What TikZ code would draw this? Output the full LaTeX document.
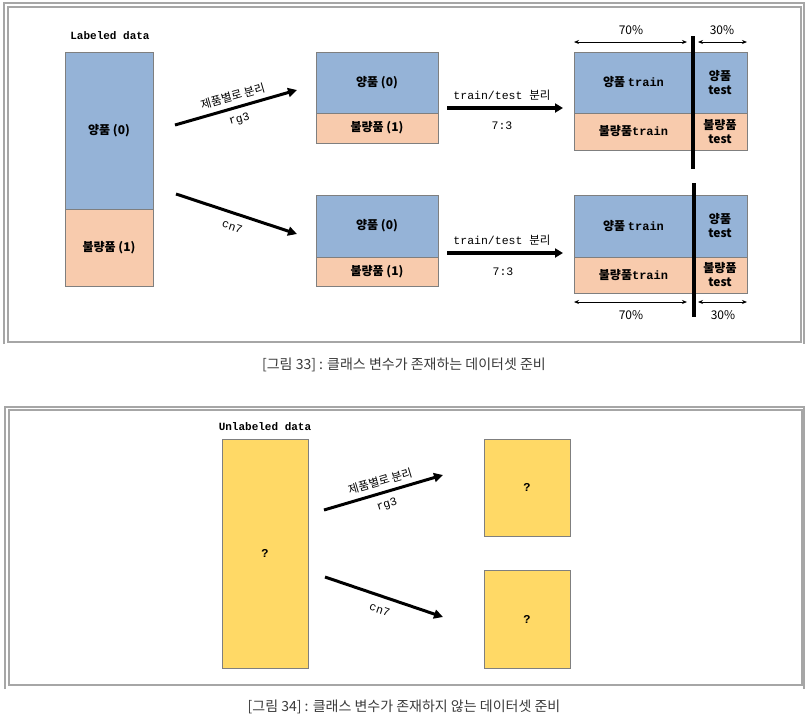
\documentclass[tikz,border=0pt]{standalone}
\usepackage{fontspec}
\setmainfont{Noto Sans CJK KR}
\newfontfamily\mono{Liberation Mono}
\usetikzlibrary{arrows.meta}
\definecolor{cblue}{HTML}{95B3D7}
\definecolor{cpeach}{HTML}{F8CBAD}
\definecolor{cyellow}{HTML}{FFD966}
\definecolor{cedge}{HTML}{7F7F7F}
\definecolor{cframe}{HTML}{A6A6A6}
\definecolor{ccap}{HTML}{3A3A3A}
\begin{document}
\begin{tikzpicture}[x=1pt,y=-1pt,
  cell/.style={draw=cedge, line width=0.8pt, inner sep=0pt, outer sep=0pt, align=center, font=\fontsize{12}{14}\selectfont\bfseries},
  bluecell/.style={cell, fill=cblue},
  peachcell/.style={cell, fill=cpeach},
  yellowcell/.style={cell, fill=cyellow},
  frameline/.style={draw=cframe, line width=1.1pt},
  bigarrow/.style={line width=3pt, -{Triangle[length=9pt,width=9pt]}},
  flowarrow/.style={line width=3.5pt, -{Triangle[length=8pt,width=9pt]}},
  dimarrow/.style={line width=0.9pt, {Stealth[length=5pt,width=4pt]}-{Stealth[length=5pt,width=4pt]}},
  divider/.style={line width=4pt, black},
  pct/.style={font=\fontsize{12}{14}\selectfont, inner sep=0pt},
  monolbl/.style={font=\mono\fontsize{11.5}{13}\selectfont, inner sep=0pt},
  krlbl/.style={font=\fontsize{11.5}{13}\selectfont, inner sep=0pt},
  titlelbl/.style={font=\mono\bfseries\fontsize{11}{13}\selectfont, inner sep=0pt},
  caption/.style={font=\fontsize{14}{16}\selectfont, text=ccap, inner sep=0pt}
]
\useasboundingbox (0,0) rectangle (807,721);

% ---------- frame 1 ----------
\draw[frameline] (4,344) -- (4,3) -- (804,3) -- (804,344);
\draw[frameline] (8,7) rectangle (801,342);

% ---------- labeled data ----------
\node[titlelbl] (tlab) at (110,36) {Labeled data};
\node[bluecell, minimum width=88, minimum height=157] (Lg) at (109,130.5) {양품 (0)};
\node[peachcell, minimum width=88, minimum height=77] (Lb) at (109,247.5) {불량품 (1)};

% middle boxes
\node[bluecell, minimum width=122, minimum height=61] (Mg1) at (377,82.5) {양품 (0)};
\node[peachcell, minimum width=122, minimum height=30] (Mb1) at (377,128) {불량품 (1)};
\node[bluecell, minimum width=122, minimum height=62] (Mg2) at (377,226) {양품 (0)};
\node[peachcell, minimum width=122, minimum height=29] (Mb2) at (377,271.5) {불량품 (1)};

% right boxes
\node[bluecell, minimum width=119, minimum height=61] (Rg1) at (633.5,82.5) {양품 {\mono train}};
\node[bluecell, minimum width=54, minimum height=61] (Tg1) at (720,82.5) {양품\\test};
\node[peachcell, minimum width=119, minimum height=37] (Rb1) at (633.5,131.5) {불량품{\mono train}};
\node[peachcell, minimum width=54, minimum height=37] (Tb1) at (720,131.5) {불량품\\test};

\node[bluecell, minimum width=119, minimum height=62] (Rg2) at (633.5,226) {양품 {\mono train}};
\node[bluecell, minimum width=54, minimum height=62] (Tg2) at (720,226) {양품\\test};
\node[peachcell, minimum width=119, minimum height=36] (Rb2) at (633.5,275) {불량품{\mono train}};
\node[peachcell, minimum width=54, minimum height=36] (Tb2) at (720,275) {불량품\\test};

% dividers
\coordinate (d1a) at (693,36);  \coordinate (d1b) at (693,169);
\coordinate (d2a) at (694,183); \coordinate (d2b) at (694,317);
\draw[divider] (d1a) -- (d1b);
\draw[divider] (d2a) -- (d2b);

% dimension arrows
\coordinate (p1a) at (574,42); \coordinate (p1b) at (687,42);
\coordinate (p2a) at (698,42); \coordinate (p2b) at (747,42);
\coordinate (p3a) at (574,302); \coordinate (p3b) at (687,302);
\coordinate (p4a) at (698,302); \coordinate (p4b) at (747,302);
\draw[dimarrow] (p1a) -- (p1b);
\draw[dimarrow] (p2a) -- (p2b);
\draw[dimarrow] (p3a) -- (p3b);
\draw[dimarrow] (p4a) -- (p4b);
\node[pct] (t70a) at (631,30) {70\%};
\node[pct] (t30a) at (722,30) {30\%};
\node[pct] (t70b) at (631,315) {70\%};
\node[pct] (t30b) at (723,315) {30\%};

% split arrows
\coordinate (a1s) at (175,125); \coordinate (a1e) at (297,90);
\coordinate (a2s) at (176,194); \coordinate (a2e) at (297,234);
\draw[bigarrow] (a1s) -- node[krlbl, sloped, above, yshift=5pt] {제품별로 분리} node[monolbl, sloped, below, yshift=-6pt] {rg3} (a1e);
\draw[bigarrow] (a2s) -- node[monolbl, sloped, below, yshift=-8pt] {cn7} (a2e);

% train/test arrows
\coordinate (f1s) at (447,108); \coordinate (f1e) at (563,108);
\coordinate (f2s) at (447,253); \coordinate (f2e) at (563,253);
\draw[flowarrow] (f1s) -- (f1e);
\draw[flowarrow] (f2s) -- (f2e);
\node[monolbl] (tt1) at (502,95) {train/test {\rmfamily 분리}};
\node[monolbl] (r1) at (502,126) {7:3};
\node[monolbl] (tt2) at (502,240) {train/test {\rmfamily 분리}};
\node[monolbl] (r2) at (503,272) {7:3};

\node[caption] (cap1) at (404,365) {[그림 33] : 클래스 변수가 존재하는 데이터셋 준비};

% ---------- frame 2 ----------
\draw[frameline] (5,689) -- (5,407) -- (804,407) -- (804,689);
\draw[frameline] (9,410) rectangle (802,685);

\node[titlelbl] (tun) at (265,427) {Unlabeled data};
\node[yellowcell, minimum width=86, minimum height=229] (U) at (265,553.5) {\mono ?};
\node[yellowcell, minimum width=86, minimum height=97] (U1) at (527,487.5) {\mono ?};
\node[yellowcell, minimum width=86, minimum height=98] (U2) at (527,619) {\mono ?};

\coordinate (b1s) at (324,510); \coordinate (b1e) at (443,475);
\coordinate (b2s) at (325,577); \coordinate (b2e) at (443,617);
\draw[bigarrow] (b1s) -- node[krlbl, sloped, above, yshift=5pt] {제품별로 분리} node[monolbl, sloped, below, yshift=-6pt] {rg3} (b1e);
\draw[bigarrow] (b2s) -- node[monolbl, sloped, below, yshift=-8pt] {cn7} (b2e);

\node[caption] (cap2) at (404,707) {[그림 34] : 클래스 변수가 존재하지 않는 데이터셋 준비};
\end{tikzpicture}
\end{document}
